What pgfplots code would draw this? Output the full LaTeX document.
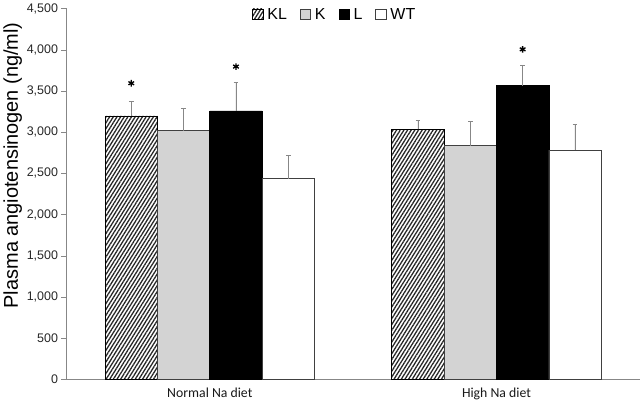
\documentclass[border=0pt]{standalone}
\usepackage{pgfplots}
\pgfplotsset{compat=1.18}
\usepackage{fontspec}
\setmainfont{Liberation Sans}
\newfontfamily\calibri{Carlito}
\usetikzlibrary{patterns.meta}
\definecolor{kgray}{RGB}{211,211,211}
\definecolor{axgray}{RGB}{135,135,135}
\tikzset{klpat/.style={pattern={Lines[angle=58,distance=3.1pt,line width=1.3pt]},pattern color=black!85}}
\begin{document}
\begin{tikzpicture}
\begin{axis}[
  scale only axis,
  width=575pt, height=372pt,
  xmin=-0.5, xmax=1.5,
  ymin=0, ymax=4500,
  ytick={0,500,...,4500},
  xtick={0,1},
  xticklabels={Normal Na diet, High Na diet},
  xticklabel style={font=\calibri\fontsize{13.8}{15}\selectfont, text=black!90},
  yticklabel style={font=\fontsize{12.5}{14}\selectfont, text=black!85},
  /pgf/number format/assume math mode=true,
  /pgf/number format/1000 sep={,},
  axis x line=bottom, axis y line=left,
  axis line style={axgray, -},
  xtick style={draw=none},
  ytick style={axgray},
  tick align=outside,
  major tick length=5pt,
  ylabel={Plasma angiotensinogen (ng/ml)},
  ylabel style={font=\fontsize{20}{23}\selectfont, text=black, at={(ticklabel cs:0.577)}, yshift=-2pt},
  legend style={at={(0.468,1.012)}, anchor=north, draw=none, fill=none,
    legend columns=-1, font=\fontsize{16}{18}\selectfont,
    /tikz/every odd column/.append style={column sep=2pt},
    /tikz/every even column/.append style={column sep=11pt}},
  legend image code/.code={\draw[#1] (0pt,-5pt) rectangle (10.5pt,5.5pt);},
  every axis plot/.append style={line width=0.6pt},
  error bars/y dir=plus, error bars/y explicit,
  error bars/error bar style={axgray, line width=0.8pt},
  error bars/error mark options={rotate=90, mark size=2.3pt, axgray, line width=0.8pt},
]
\addplot[ybar, bar width=0.1826, bar shift=0, draw=black, klpat]
  coordinates {(-0.2739,3197) +- (0,175) (0.7261,3032) +- (0,109)};
\addlegendentry{KL}
\addplot[ybar, bar width=0.1826, bar shift=0, draw=black!75, fill=kgray]
  coordinates {(-0.0913,3019) +- (0,271) (0.9087,2834) +- (0,291)};
\addlegendentry{K}
\addplot[ybar, bar width=0.1826, bar shift=0, draw=black, fill=black]
  coordinates {(0.0913,3258) +- (0,343) (1.0913,3565) +- (0,249)};
\addlegendentry{L}
\addplot[ybar, bar width=0.1826, bar shift=0, draw=black!75, fill=white]
  coordinates {(0.2739,2435) +- (0,283) (1.2739,2782) +- (0,311)};
\addlegendentry{WT}
\addplot[only marks, mark=asterisk, mark size=3.3pt, line width=1.3pt, black, forget plot]
  coordinates {(-0.2739,3593) (0.0913,3795) (1.0913,4004)};
\end{axis}
\end{tikzpicture}
\end{document}
